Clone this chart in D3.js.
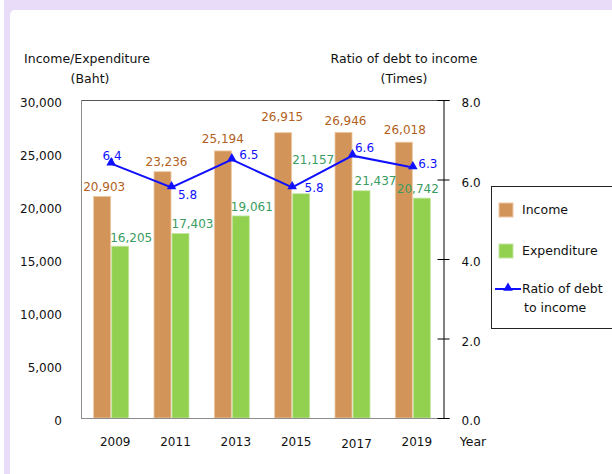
<!DOCTYPE html>
<html>
<head>
<meta charset="utf-8">
<script src="https://cdn.jsdelivr.net/npm/d3@7"></script>
<style>
  body { margin: 0; background: #fff; }
  svg { display: block; font-family: "DejaVu Sans", Verdana, sans-serif; }
  svg text { font-family: "DejaVu Sans", Verdana, sans-serif; }
  .axis text { font-size: 12px; }
</style>
</head>
<body>
<div id="chart"></div>
<script>
// values
const years = ["2009", "2011", "2013", "2015", "2017", "2019"];
const income = [20903, 23236, 25194, 26915, 26946, 26018];
const expenditure = [16205, 17403, 19061, 21157, 21437, 20742];
const debtRatio = [6.4, 5.8, 6.5, 5.8, 6.6, 6.3];
const leftTicks = [0, 5000, 10000, 15000, 20000, 25000, 30000];
const rightTicks = [0, 2, 4, 6, 8];

// hand nudges for the value labels (the original places them loosely)
const incomeNudge = [[2, -5], [4, -6], [0, -8], [-1, -12], [2, -7], [1, -8]];
const expNudge = [[11, -4], [12, -6], [11, -5], [12, -30], [14, -6], [-4, -5]];
const ratioNudge = [[1, -4], [16, 12], [17, -1], [22, 5], [12, -4], [15, 0]];

const width = 612;
const height = 474;
const plot = { left: 81, right: 443, top: 100, bottom: 418 };

const incomeColor = "#d3945a";
const expColor = "#92d050";
const lineColor = "#1010ff";
const incomeText = "#b15f22";
const expText = "#3a9c60";

const svg = d3.select("#chart").append("svg")
    .attr("width", width)
    .attr("height", height);

// lavender frame round the page
svg.append("rect")
    .attr("x", 4).attr("y", -10)
    .attr("width", 640).attr("height", 520)
    .attr("rx", 6)
    .attr("fill", "#e8dcf9");
svg.append("rect")
    .attr("x", 10).attr("y", 10)
    .attr("width", 640).attr("height", 520)
    .attr("rx", 5)
    .attr("fill", "#fff");

const x = d3.scaleBand()
    .domain(years)
    .range([plot.left, plot.right])
    .padding(0);
const yLeft = d3.scaleLinear().domain([0, 30000]).range([plot.bottom, plot.top]);
const yRight = d3.scaleLinear().domain([0, 8]).range([plot.bottom, plot.top]);
const barW = 17;
const cx = function(d) { return x(d) + x.bandwidth() / 2; };

// bars
svg.append("g").selectAll("rect")
    .data(income)
    .join("rect")
    .attr("x", function(d, i) { return cx(years[i]) - barW - 0.5; })
    .attr("y", function(d) { return yLeft(d); })
    .attr("width", barW)
    .attr("height", function(d) { return plot.bottom - yLeft(d); })
    .attr("fill", incomeColor)
    .attr("stroke", "#ecc9a4")
    .attr("stroke-width", 0.8);
svg.append("g").selectAll("rect")
    .data(expenditure)
    .join("rect")
    .attr("x", function(d, i) { return cx(years[i]) + 0.5; })
    .attr("y", function(d) { return yLeft(d); })
    .attr("width", barW)
    .attr("height", function(d) { return plot.bottom - yLeft(d); })
    .attr("fill", expColor)
    .attr("stroke", "#c2e6a0")
    .attr("stroke-width", 0.8);

// frame lines
svg.append("line")
    .attr("x1", plot.left).attr("x2", plot.right)
    .attr("y1", plot.top + 0.5).attr("y2", plot.top + 0.5)
    .attr("stroke", "#555");
svg.append("line")
    .attr("x1", plot.left + 0.5).attr("x2", plot.left + 0.5)
    .attr("y1", plot.top).attr("y2", plot.bottom)
    .attr("stroke", "#8c8c8c");
svg.append("line")
    .attr("x1", plot.left).attr("x2", plot.right + 6)
    .attr("y1", plot.bottom + 0.5).attr("y2", plot.bottom + 0.5)
    .attr("stroke", "#8c8c8c");

// left axis
const leftAxis = svg.append("g")
    .attr("class", "axis")
    .attr("transform", "translate(" + plot.left + ",0)")
    .call(d3.axisLeft(yLeft).tickValues(leftTicks).tickSize(0).tickPadding(19)
        .tickFormat(d3.format(",")));
leftAxis.attr("font-family", null).attr("font-size", 12);
leftAxis.select(".domain").remove();
leftAxis.selectAll("text")
    .attr("dy", "0.58em")
    .attr("fill", "#111");

// right axis, ticks cross the line
const rightAxis = svg.append("g")
    .attr("class", "axis")
    .attr("transform", "translate(" + (plot.right + 0.5) + ",0)")
    .call(d3.axisRight(yRight).tickValues(rightTicks).tickSize(6).tickPadding(12)
        .tickFormat(d3.format(".1f")));
rightAxis.attr("font-family", null).attr("font-size", 12);
rightAxis.select(".domain").attr("stroke", "#000");
rightAxis.selectAll(".tick line").attr("x1", -6).attr("stroke", "#000");
rightAxis.selectAll("text")
    .attr("dy", "0.58em")
    .attr("fill", "#111");

// bottom axis
const bottomAxis = svg.append("g")
    .attr("class", "axis")
    .attr("transform", "translate(4," + plot.bottom + ")")
    .call(d3.axisBottom(x).tickSize(0));
bottomAxis.attr("font-family", null).attr("font-size", 12);
bottomAxis.select(".domain").remove();
bottomAxis.selectAll("text")
    .attr("y", 28)
    .attr("dy", function(d) { return d == "2017" ? 2 : 0; })
    .attr("fill", "#111");

// axis titles
const titles = svg.append("g")
    .attr("font-size", 12.5)
    .attr("fill", "#111")
    .attr("text-anchor", "middle");
titles.append("text").attr("x", 87).attr("y", 63).text("Income/Expenditure");
titles.append("text").attr("x", 90).attr("y", 83).text("(Baht)");
titles.append("text").attr("x", 404).attr("y", 63).text("Ratio of debt to income");
titles.append("text").attr("x", 404).attr("y", 83).text("(Times)");
titles.append("text").attr("x", 473).attr("y", 446).text("Year");

// ratio line
const line = d3.line()
    .x(function(d, i) { return cx(years[i]); })
    .y(function(d) { return yRight(d); });
svg.append("path")
    .datum(debtRatio)
    .attr("d", line)
    .attr("fill", "none")
    .attr("stroke", lineColor)
    .attr("stroke-width", 2);
const tri = d3.symbol().type(d3.symbolTriangle).size(40);
svg.append("g").selectAll("path")
    .data(debtRatio)
    .join("path")
    .attr("d", tri)
    .attr("transform", function(d, i) {
        return "translate(" + cx(years[i]) + "," + (yRight(d) - 1) + ")";
    })
    .attr("fill", lineColor);

// value labels
const labels = svg.append("g")
    .attr("font-size", 12)
    .attr("text-anchor", "middle");
labels.selectAll(".inc")
    .data(income)
    .join("text")
    .attr("class", "inc")
    .attr("x", function(d, i) { return cx(years[i]) - 9 + incomeNudge[i][0]; })
    .attr("y", function(d, i) { return yLeft(d) + incomeNudge[i][1]; })
    .attr("fill", incomeText)
    .text(d3.format(","));
labels.selectAll(".exp")
    .data(expenditure)
    .join("text")
    .attr("class", "exp")
    .attr("x", function(d, i) { return cx(years[i]) + 9 + expNudge[i][0]; })
    .attr("y", function(d, i) { return yLeft(d) + expNudge[i][1]; })
    .attr("fill", expText)
    .text(d3.format(","));
labels.selectAll(".ratio")
    .data(debtRatio)
    .join("text")
    .attr("class", "ratio")
    .attr("x", function(d, i) { return cx(years[i]) + ratioNudge[i][0]; })
    .attr("y", function(d, i) { return yRight(d) + ratioNudge[i][1]; })
    .attr("fill", lineColor)
    .text(d3.format(".1f"));

// legend
const legend = svg.append("g").attr("font-size", 12.5).attr("fill", "#111");
legend.append("rect")
    .attr("x", 491.5).attr("y", 186.5)
    .attr("width", 140).attr("height", 142)
    .attr("fill", "#fff")
    .attr("stroke", "#222");
legend.append("rect")
    .attr("x", 499).attr("y", 203).attr("width", 14).attr("height", 14)
    .attr("fill", incomeColor).attr("stroke", "#ecc9a4");
legend.append("text").attr("x", 522).attr("y", 214).text("Income");
legend.append("rect")
    .attr("x", 499).attr("y", 244).attr("width", 14).attr("height", 14)
    .attr("fill", expColor).attr("stroke", "#c2e6a0");
legend.append("text").attr("x", 522).attr("y", 255).text("Expenditure");
legend.append("line")
    .attr("x1", 495).attr("x2", 521)
    .attr("y1", 289).attr("y2", 289)
    .attr("stroke", lineColor).attr("stroke-width", 2);
legend.append("path")
    .attr("d", tri)
    .attr("transform", "translate(508,288)")
    .attr("fill", lineColor);
legend.append("text").attr("x", 522).attr("y", 293).text("Ratio of debt");
legend.append("text").attr("x", 524).attr("y", 312).text("to income");
</script>
</body>
</html>
